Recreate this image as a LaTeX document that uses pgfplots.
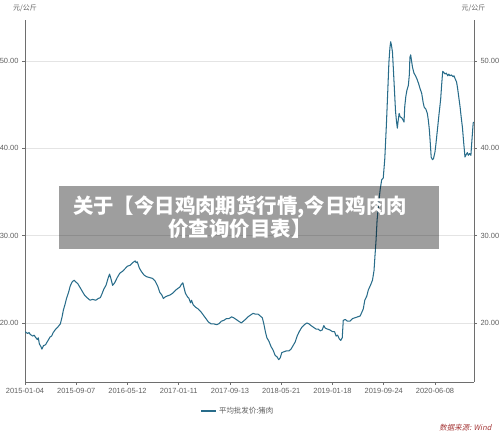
\documentclass[border=0pt]{standalone}
\usepackage{pgfplots}
\pgfplotsset{compat=1.18}
\usepackage{fontspec}
\setmainfont{Liberation Sans}
\newfontfamily\cjk{Noto Sans CJK SC}
\newfontfamily\cjkit[FakeSlant=0.2]{Noto Sans CJK SC}
\definecolor{linec}{RGB}{40,108,138}
\definecolor{axisc}{RGB}{110,110,110}
\definecolor{gridc}{RGB}{228,228,228}
\definecolor{labc}{RGB}{95,95,95}
\definecolor{srcc}{RGB}{165,55,55}

\pgfplotsset{
  common/.style={
    at={(25bp,53bp)}, anchor=south west,
    scale only axis, width=449bp, height=362bp,
    xmin=0, xmax=8.761, ymin=13.24, ymax=54.69,
    ytick={20,30,40,50},
    tick align=outside,
    major tick length=3bp,
    tick style={axisc, line width=0.6pt},
    axis line style={axisc, line width=0.7pt},
    ticklabel style={font=\fontsize{7.5}{9}\selectfont, text=labc},
    /pgf/number format/assume math mode=true,
    yticklabel style={/pgf/number format/.cd, fixed, fixed zerofill, precision=2},
  }
}

\begin{document}
\begin{tikzpicture}[x=1bp,y=1bp]
\useasboundingbox (0,0) rectangle (500,435);
\begin{axis}[common,
  axis x line*=bottom, axis y line*=left,
  ymajorgrids, grid style={gridc, line width=0.6pt},
  xtick={0,1,2,3,4,5,6,7,8},
  xticklabels={2015-01-04,2015-09-07,2016-05-12,2017-01-11,2017-09-13,2018-05-21,2019-01-18,2019-09-24,2020-06-08},
  legend style={at={(0.474,-0.08)}, anchor=center, draw=none, fill=none,
    font=\cjk\fontsize{7.5}{9}\selectfont, text=labc},
  legend image code/.code={\draw[#1, line width=1.8pt] (0bp,0bp) -- (15bp,0bp);},
]
\addplot[linec, line width=1.05pt, line join=round] coordinates {
(0.00,19.0)(0.05,18.8)(0.08,18.9)(0.10,18.7)(0.15,18.5)(0.18,18.6)(0.20,18.4)(0.24,18.1)(0.26,18.3)(0.28,17.6)(0.31,17.3)(0.33,17.0)(0.36,17.4)
(0.40,17.5)(0.44,17.9)(0.49,18.4)(0.52,18.5)(0.55,18.9)(0.60,19.3)(0.65,19.6)(0.69,19.9)(0.72,20.6)(0.75,21.5)(0.78,22.1)
(0.81,22.8)(0.85,23.5)(0.88,24.2)(0.92,24.7)(0.96,24.9)(0.99,24.7)(1.03,24.5)(1.07,24.1)(1.11,23.7)(1.16,23.2)
(1.21,22.9)(1.27,22.6)(1.32,22.7)(1.38,22.6)(1.43,22.8)(1.47,22.9)(1.50,23.3)(1.54,23.9)(1.58,24.3)(1.62,25.1)
(1.65,25.6)(1.68,25.0)(1.71,24.3)(1.75,24.6)(1.80,25.2)(1.85,25.7)(1.90,25.9)(1.95,26.2)(2.00,26.5)(2.05,26.6)
(2.10,26.9)(2.15,27.1)(2.17,26.9)(2.19,27.0)(2.23,26.3)(2.27,25.9)(2.32,25.5)(2.37,25.3)(2.43,25.2)(2.49,25.1)(2.54,24.8)
(2.59,24.2)(2.63,23.5)(2.67,23.2)(2.70,22.8)(2.74,23.0)(2.78,23.1)(2.83,23.2)(2.88,23.4)(2.93,23.7)(2.97,23.9)
(3.02,24.1)(3.05,24.4)(3.08,24.6)(3.10,24.1)(3.13,23.4)(3.17,23.0)(3.20,22.8)(3.23,22.3)(3.25,22.6)(3.28,22.1)
(3.33,21.8)(3.38,21.6)(3.43,21.3)(3.48,20.9)(3.53,20.5)(3.58,20.1)(3.63,19.9)(3.68,19.9)(3.74,19.8)(3.78,19.9)
(3.83,20.2)(3.88,20.3)(3.93,20.5)(3.98,20.5)(4.03,20.7)(4.07,20.6)(4.12,20.4)(4.17,20.2)(4.22,20.0)(4.26,20.2)
(4.30,20.4)(4.35,20.7)(4.40,20.9)(4.45,21.1)(4.50,21.0)(4.55,21.0)(4.59,20.8)(4.63,20.6)(4.66,19.9)(4.69,19.0)
(4.72,18.3)(4.76,17.9)(4.80,17.3)(4.84,16.9)(4.88,16.3)(4.92,16.1)(4.95,15.8)(4.98,16.0)(5.01,16.6)(5.05,16.7)
(5.10,16.8)(5.15,16.8)(5.19,17.0)(5.23,17.4)(5.27,17.8)(5.31,18.5)(5.35,19.0)(5.40,19.5)(5.45,19.8)(5.50,20.0)
(5.54,19.9)(5.58,19.7)(5.63,19.5)(5.68,19.3)(5.72,19.3)(5.76,19.1)(5.80,19.2)(5.83,19.7)(5.86,19.4)(5.90,19.3)
(5.95,19.2)(6.00,19.0)(6.04,19.0)(6.07,18.5)(6.10,18.6)(6.13,18.2)(6.16,18.0)(6.19,18.3)(6.21,20.3)(6.25,20.4)
(6.29,20.2)(6.34,20.2)(6.39,20.5)(6.44,20.6)(6.49,20.7)(6.54,20.8)(6.57,21.2)(6.60,21.6)(6.63,22.6)(6.67,23.1)
(6.70,23.8)(6.74,24.3)(6.78,24.9)(6.81,26.0)(6.83,27.8)(6.85,29.5)(6.87,31.8)(6.90,33.6)(6.93,35.3)(6.96,36.4)
(6.99,36.6)(7.02,38.8)(7.05,42.5)(7.08,46.8)(7.10,49.8)(7.12,51.5)(7.135,52.2)(7.15,51.8)(7.17,51.0)(7.19,48.8)
(7.21,46.5)(7.23,44.2)(7.25,43.0)(7.265,42.3)(7.28,43.1)(7.30,44.0)(7.32,43.6)(7.35,43.5)(7.37,43.3)(7.395,43.0)
(7.41,44.8)(7.43,45.9)(7.45,46.6)(7.48,47.2)(7.50,48.5)(7.51,50.4)(7.525,50.7)(7.545,49.9)(7.56,49.3)(7.59,48.6)
(7.62,48.3)(7.65,47.9)(7.68,47.4)(7.71,46.8)(7.74,46.3)(7.77,45.2)(7.79,44.7)(7.82,44.5)(7.85,44.0)(7.87,43.2)
(7.89,42.1)(7.91,40.4)(7.925,39.0)(7.95,38.7)(7.97,38.8)(8.00,39.6)(8.02,40.6)(8.05,42.3)(8.08,44.0)(8.11,45.6)
(8.13,47.3)(8.15,48.8)(8.17,48.7)(8.195,48.5)(8.22,48.6)(8.25,48.3)(8.27,48.5)(8.29,48.3)(8.32,48.4)(8.35,48.2)
(8.37,48.3)(8.39,48.0)(8.42,47.6)(8.44,46.9)(8.465,45.8)(8.49,44.7)(8.51,43.6)(8.535,42.4)(8.56,40.6)(8.585,39.0)
(8.61,39.3)(8.63,39.5)(8.65,39.2)(8.675,39.4)(8.70,39.2)(8.72,40.9)(8.745,42.9)(8.76,43.0)
};
\addlegendentry{平均批发价:猪肉}
\end{axis}
\begin{axis}[common,
  axis y line*=right, axis x line=none,
]
\end{axis}
\node[font=\cjk\fontsize{7}{8}\selectfont, text=labc] at (25,427) {元/公斤};
\node[font=\cjk\fontsize{7}{8}\selectfont, text=labc] at (473.5,427) {元/公斤};
\fill[black, opacity=0.38] (59,186) rectangle (439,249);
\node[text=white, align=center, font=\cjk\bfseries\fontsize{20.5}{23}\selectfont] at (240,218) {关于【今日鸡肉期货行情,今日鸡肉肉\\价查询价目表】};
\node[anchor=east, font=\cjkit\fontsize{7.5}{9}\selectfont, text=srcc] at (495,7.5) {数据来源: Wind};
\end{tikzpicture}
\end{document}
